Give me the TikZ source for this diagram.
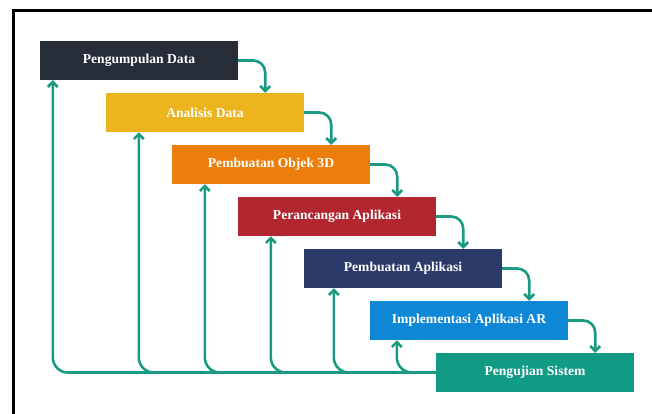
\documentclass[tikz,border=0pt]{standalone}
\usepackage{fontspec}
\setmainfont{Liberation Serif}
\usepackage{xcolor}
\usetikzlibrary{positioning, arrows.meta}

\definecolor{tahapA}{HTML}{272D38}
\definecolor{tahapB}{HTML}{EBB41E}
\definecolor{tahapC}{HTML}{EC7F0B}
\definecolor{tahapD}{HTML}{B1262F}
\definecolor{tahapE}{HTML}{2B3A69}
\definecolor{tahapF}{HTML}{0E88D6}
\definecolor{tahapG}{HTML}{119B84}
\definecolor{panah}{HTML}{1A9A82}

\tikzset{
  tahap/.style={rectangle, minimum width=198pt, minimum height=39pt, inner sep=0pt,
    text=white, font=\fontsize{13.6}{15}\selectfont\bfseries},
  alur/.style={->, draw=panah, line width=2.6pt, rounded corners=12pt},
}

\begin{document}
\begin{tikzpicture}[node distance=52pt and 66pt, on grid,
    >={Straight Barb[length=5pt, width=10pt]}]
    \useasboundingbox (0,0) rectangle (652pt,-414pt);
    \draw[line width=3pt] (13pt,-414pt) -- (13pt,-11pt) -- (652pt,-11pt);

    \node[tahap, fill=tahapA] (kumpul) at (139pt,-60.5pt) {Pengumpulan Data};
    \node[tahap, fill=tahapB] (analisis) [below right=of kumpul] {Analisis Data};
    \node[tahap, fill=tahapC] (objek) [below right=of analisis] {Pembuatan Objek 3D};
    \node[tahap, fill=tahapD] (rancang) [below right=of objek] {Perancangan Aplikasi};
    \node[tahap, fill=tahapE] (buat) [below right=of rancang] {Pembuatan Aplikasi};
    \node[tahap, fill=tahapF] (implement) [below right=of buat] {Implementasi Aplikasi AR};
    \node[tahap, fill=tahapG] (uji) [below right=of implement] {Pengujian Sistem};

    % alur ke tahap berikutnya
    \foreach \a/\b in {kumpul/analisis, analisis/objek, objek/rancang,
                       rancang/buat, buat/implement, implement/uji}
        \draw[alur] (\a.east) -| ([xshift=-39pt]\b.north east);

    % umpan balik dari pengujian
    \foreach \n/\dx in {kumpul/13, analisis/33, objek/33, rancang/33, buat/30, implement/27}
        \draw[alur, rounded corners=15pt] (uji.west) -| ([xshift=\dx pt]\n.south west);
\end{tikzpicture}
\end{document}
